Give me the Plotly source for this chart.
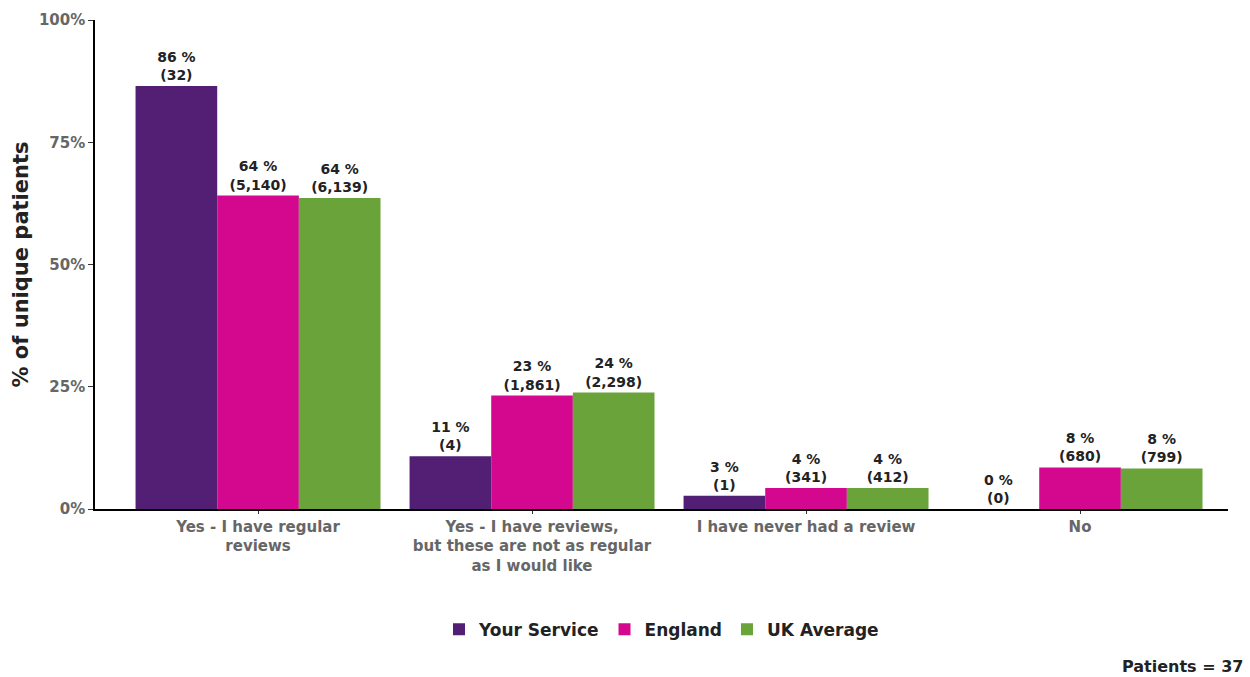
import plotly.graph_objects as go

categories = ["Yes - I have regular<br>reviews",
              "Yes - I have reviews,<br>but these are not as regular<br>as I would like",
              "I have never had a review",
              "No"]
series_names = ["Your Service", "England", "UK Average"]
your_service_pct = [86.5, 10.8, 2.7, 0.0]
england_pct = [64.1, 23.2, 4.3, 8.5]
uk_pct = [63.6, 23.8, 4.3, 8.3]
your_service_n = ["32", "4", "1", "0"]
england_n = ["5,140", "1,861", "341", "680"]
uk_n = ["6,139", "2,298", "412", "799"]
pct_labels_ys = ["86", "11", "3", "0"]
pct_labels_en = ["64", "23", "4", "8"]
pct_labels_uk = ["64", "24", "4", "8"]
colors = ["#521F74", "#D4088F", "#6AA33A"]
y_ticks = [0, 25, 50, 75, 100]
y_tick_text = ["0%", "25%", "50%", "75%", "100%"]

FONT = "DejaVu Sans"
fig = go.Figure()
for name, vals, ns, pl, col in zip(series_names,
                                    [your_service_pct, england_pct, uk_pct],
                                    [your_service_n, england_n, uk_n],
                                    [pct_labels_ys, pct_labels_en, pct_labels_uk],
                                    colors):
    fig.add_trace(go.Bar(
        name=name, x=categories, y=vals,
        marker=dict(color=col, line=dict(width=0)),
        text=[f"{p} %<br>({n})" for p, n in zip(pl, ns)],
        textposition="outside",
        textfont=dict(family=FONT, size=14, color="#222222", weight="bold"),
        cliponaxis=False,
        hoverinfo="skip",
    ))

fig.update_layout(
    width=1250, height=677,
    barmode="group", bargap=0.106, bargroupgap=0,
    plot_bgcolor="white", paper_bgcolor="white",
    margin=dict(l=95, r=22, t=20, b=168),
    font=dict(family=FONT),
    legend=dict(orientation="h", x=0.5, xanchor="center", xref="paper",
                y=-0.247, yanchor="middle",
                font=dict(family=FONT, size=17, color="#222222", weight="bold"),
                itemwidth=30, traceorder="normal"),
    xaxis=dict(range=[-0.595, 3.54], showline=True, linecolor="black", linewidth=1.5,
               ticks="outside", ticklen=3, tickcolor="#333",
               tickfont=dict(family=FONT, size=15, color="#666666", weight="bold"),
               showgrid=False, zeroline=False),
    yaxis=dict(range=[0, 100], tickvals=y_ticks, ticktext=y_tick_text,
               showline=True, linecolor="black", linewidth=1.5,
               ticks="outside", ticklen=5, tickcolor="#333",
               tickfont=dict(family=FONT, size=15, color="#666666", weight="bold"),
               showgrid=False, zeroline=False,
               title=dict(text="% of unique patients",
                          font=dict(family=FONT, size=21, color="#222222", weight="bold"),
                          standoff=5)),
    annotations=[dict(text="Patients = 37", xref="paper", yref="paper",
                      x=1.015, y=-0.323, xanchor="right", yanchor="middle",
                      showarrow=False,
                      font=dict(family=FONT, size=16, color="#222222", weight="bold"))],
)
fig.write_html("out.html", config={"displayModeBar": False},
               post_script="document.body.style.margin='0';document.body.style.overflow='hidden';")
